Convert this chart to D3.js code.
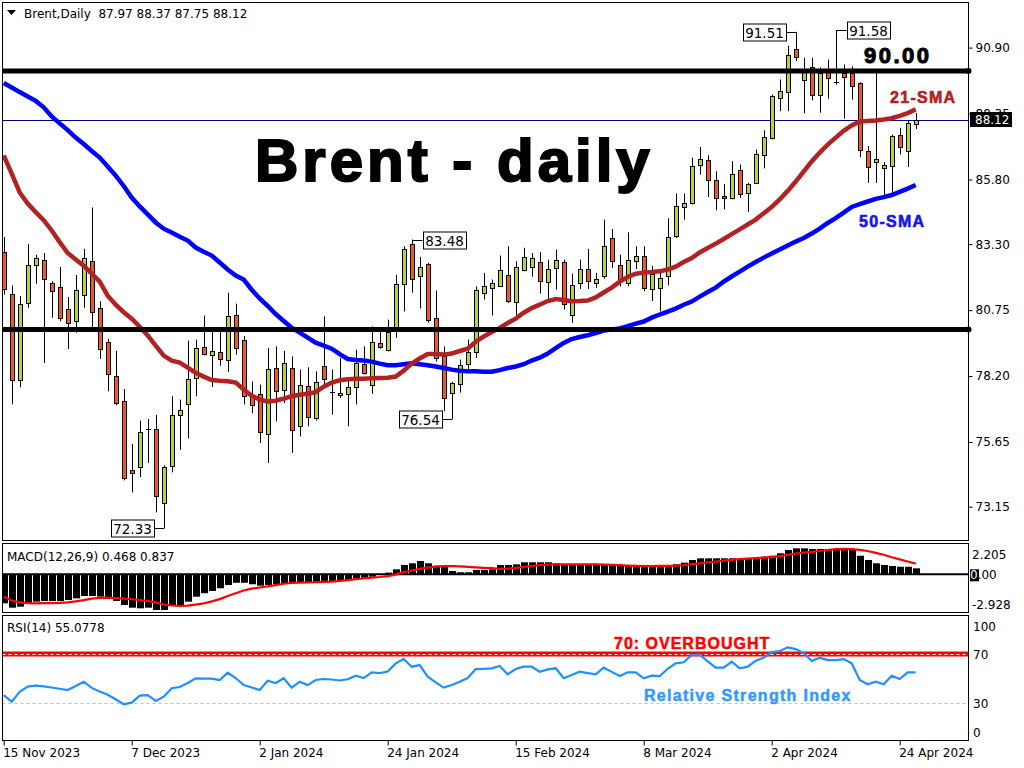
<!DOCTYPE html>
<html>
<head>
<meta charset="utf-8">
<script src="https://cdn.jsdelivr.net/npm/d3@7"></script>
<style>
  body { margin: 0; background: #fff; }
  svg { display: block; }
  text { font-family: "DejaVu Sans", sans-serif; }
</style>
</head>
<body>
<svg id="chart" width="1024" height="768"></svg>
<script>
// daily candles, 15 Nov 2023 .. 26 Apr 2024 (115 bars)
const open = [83.00,81.38,78.05,81.03,82.50,82.68,81.80,81.65,80.80,80.33,
  81.35,82.65,80.84,79.52,78.21,77.24,74.57,74.69,76.17,76.16,
  73.29,74.71,76.70,77.12,78.13,79.33,79.02,79.12,78.79,80.57,
  79.60,77.44,77.51,75.96,78.52,77.68,78.52,76.27,77.80,76.58,
  78.60,77.57,77.48,77.51,77.80,78.67,77.87,79.48,79.21,79.96,
  81.77,83.29,82.07,82.54,80.45,78.96,77.55,77.90,78.64,79.12,
  81.42,81.57,81.71,82.12,81.03,82.32,82.42,82.62,81.85,82.38,
  82.62,80.58,81.78,82.34,81.80,82.06,83.54,82.50,81.80,82.67,
  82.83,81.57,81.60,82.06,83.63,84.73,84.90,86.38,86.57,85.80,
  85.15,85.09,86.15,85.25,85.67,86.77,87.39,88.96,89.19,90.84,
  89.66,90.14,89.09,89.99,89.58,89.93,89.93,89.54,86.89,86.48,
  86.25,86.31,87.51,86.89,87.97]
const high = [83.58,81.70,81.29,83.31,82.89,82.96,81.87,82.42,81.26,82.11,
  83.12,84.72,81.09,79.64,79.18,77.70,75.58,76.48,76.54,76.70,
  74.75,77.42,77.29,79.57,79.61,80.54,79.93,79.93,81.42,81.00,
  79.75,77.99,77.87,79.29,79.35,79.18,78.96,78.45,78.54,78.38,
  80.51,78.45,78.90,78.13,79.22,79.35,80.12,79.93,80.38,82.12,
  83.22,83.48,82.81,82.58,81.51,79.35,77.98,78.84,79.61,81.67,
  82.19,81.93,82.86,83.22,82.64,83.16,82.96,82.99,82.70,83.09,
  82.70,82.16,82.70,83.12,82.19,84.25,83.89,82.90,83.76,83.22,
  83.22,82.47,82.30,84.30,85.26,85.26,86.64,87.06,86.74,86.12,
  85.63,86.51,86.38,85.67,86.96,87.70,89.09,89.67,90.98,91.51,
  90.51,90.51,90.14,90.44,91.58,90.25,90.18,89.56,87.09,90.02,
  86.47,87.54,87.80,88.08,88.37]
const low = [81.35,77.11,77.77,80.84,81.77,78.71,80.45,80.32,79.25,79.87,
  80.84,80.09,78.86,77.61,77.07,74.17,73.70,74.30,74.84,72.93,
  72.33,74.48,75.35,75.79,77.42,79.00,77.78,78.60,78.35,79.03,
  77.10,76.76,75.61,74.84,76.45,77.16,75.23,75.87,76.26,76.48,
  77.74,76.71,77.35,76.26,77.10,78.26,77.51,79.26,79.15,79.68,
  80.70,81.42,80.81,80.26,78.76,76.84,76.54,77.56,78.45,78.90,
  81.16,80.54,81.67,81.03,80.54,82.25,82.04,81.39,81.18,81.54,
  80.77,80.26,81.57,81.57,81.61,81.96,82.38,81.67,81.67,82.34,
  81.48,81.10,80.70,81.70,83.54,84.25,84.83,85.99,85.12,84.61,
  84.64,85.03,85.09,84.55,85.63,86.23,87.35,88.44,88.44,90.38,
  88.36,88.86,88.38,88.92,89.47,88.16,88.89,86.66,85.67,85.67,
  85.15,85.29,86.77,86.28,87.75]
const close = [81.57,78.05,80.99,82.50,82.76,81.96,81.49,80.45,80.26,81.53,
  82.77,80.68,79.25,78.28,77.16,74.26,74.44,76.04,76.17,73.56,
  74.69,76.70,76.89,78.09,79.29,79.06,79.17,78.86,80.51,79.29,
  77.43,77.08,76.04,78.48,77.64,78.71,76.13,77.87,76.60,77.97,
  78.10,77.57,77.55,77.78,78.71,78.32,79.52,79.33,79.91,81.77,
  83.13,81.92,82.40,80.36,78.90,77.35,77.94,78.63,79.12,81.52,
  81.70,81.78,82.32,81.13,82.40,82.81,82.77,81.87,82.34,82.70,
  80.98,81.74,82.34,81.87,81.96,83.22,82.67,81.87,82.68,82.86,
  81.61,82.16,82.00,83.58,84.79,84.90,86.34,86.61,85.80,85.09,
  85.09,86.02,85.22,85.61,86.79,87.45,89.01,89.24,90.61,90.55,
  90.03,89.05,89.93,89.71,89.58,89.77,89.44,86.96,86.29,86.60,
  86.35,87.48,87.05,87.99,88.12]

const sma21 = [86.73,86.03,85.30,84.87,84.54,84.23,83.83,83.38,82.96,82.71,
  82.47,82.16,81.85,81.31,80.96,80.67,80.42,80.11,79.77,79.38,
  78.99,78.80,78.72,78.53,78.33,78.18,78.05,78.02,78.00,77.95,
  77.68,77.44,77.29,77.22,77.25,77.33,77.42,77.48,77.52,77.58,
  77.79,77.95,78.04,78.08,78.10,78.10,78.12,78.13,78.14,78.18,
  78.41,78.68,78.88,79.05,79.05,79.03,79.07,79.17,79.26,79.53,
  79.73,79.90,80.06,80.25,80.42,80.65,80.83,80.96,81.10,81.18,
  81.14,81.09,81.10,81.12,81.24,81.43,81.62,81.85,82.03,82.16,
  82.20,82.22,82.25,82.32,82.43,82.61,82.76,82.98,83.15,83.32,
  83.50,83.69,83.87,84.06,84.25,84.50,84.74,85.03,85.36,85.72,
  86.11,86.50,86.84,87.15,87.42,87.68,87.89,88.04,88.06,88.08,
  88.12,88.17,88.26,88.37,88.51]
const sma50 = [89.53,89.36,89.18,89.01,88.84,88.59,88.24,87.97,87.71,87.42,
  87.17,86.90,86.65,86.30,85.95,85.55,85.10,84.76,84.45,84.14,
  83.90,83.75,83.59,83.44,83.17,83.01,82.86,82.59,82.32,82.09,
  81.93,81.54,81.20,80.91,80.60,80.33,80.07,79.88,79.69,79.49,
  79.38,79.26,79.05,78.86,78.82,78.80,78.76,78.68,78.62,78.62,
  78.66,78.70,78.66,78.62,78.57,78.51,78.45,78.41,78.39,78.39,
  78.37,78.37,78.43,78.51,78.57,78.66,78.80,78.91,79.07,79.28,
  79.48,79.63,79.71,79.78,79.86,79.96,80.00,80.04,80.13,80.23,
  80.31,80.46,80.58,80.69,80.81,80.96,81.08,81.27,81.45,81.62,
  81.85,82.05,82.24,82.43,82.61,82.78,82.94,83.09,83.25,83.40,
  83.54,83.71,83.90,84.12,84.31,84.52,84.74,84.85,84.95,85.05,
  85.12,85.20,85.32,85.45,85.59]

const macdHist = [-2.27,-2.61,-2.53,-2.27,-2.14,-2.09,-2.09,-2.09,-2.01,-1.88,
  -1.70,-1.70,-1.75,-1.88,-2.09,-2.40,-2.61,-2.66,-2.61,-2.79,
  -2.79,-2.45,-2.40,-2.14,-1.75,-1.48,-1.30,-1.09,-0.84,-0.66,
  -0.66,-0.78,-0.89,-0.84,-0.78,-0.70,-0.66,-0.63,-0.63,-0.58,
  -0.52,-0.52,-0.52,-0.45,-0.31,-0.27,-0.19,-0.05,0.13,0.39,
  0.73,0.86,1.04,0.86,0.67,0.59,0.26,0.16,0.16,0.34,
  0.34,0.39,0.73,0.73,0.78,0.94,0.94,0.94,0.94,0.86,
  0.80,0.78,0.76,0.75,0.74,0.73,0.72,0.72,0.72,0.73,
  0.73,0.67,0.59,0.67,0.78,0.91,1.12,1.25,1.25,1.25,
  1.25,1.25,1.20,1.20,1.30,1.38,1.45,1.64,1.90,2.03,
  2.03,1.98,1.98,1.98,1.98,1.98,1.90,1.45,1.12,0.86,
  0.73,0.65,0.59,0.59,0.468]
const macdSignal = [-1.75,-2.05,-2.20,-2.26,-2.27,-2.26,-2.25,-2.23,-2.20,-2.12,
  -2.02,-1.90,-1.85,-1.83,-1.86,-1.90,-1.95,-2.01,-2.08,-2.20,
  -2.36,-2.44,-2.48,-2.45,-2.37,-2.28,-2.12,-1.94,-1.70,-1.48,
  -1.27,-1.12,-1.03,-0.95,-0.85,-0.74,-0.68,-0.65,-0.63,-0.62,
  -0.60,-0.58,-0.52,-0.45,-0.38,-0.32,-0.26,-0.21,-0.14,-0.02,
  0.17,0.30,0.42,0.52,0.60,0.64,0.65,0.62,0.58,0.54,
  0.51,0.48,0.43,0.44,0.50,0.58,0.65,0.71,0.75,0.77,
  0.78,0.78,0.78,0.78,0.78,0.76,0.74,0.71,0.68,0.66,
  0.65,0.65,0.66,0.66,0.67,0.72,0.79,0.86,0.93,1.00,
  1.07,1.13,1.19,1.23,1.27,1.31,1.35,1.42,1.52,1.61,
  1.69,1.75,1.82,1.90,1.97,1.99,1.97,1.91,1.82,1.68,
  1.53,1.33,1.17,1.00,0.837]
const rsi = [36.7,31.3,39.4,43.5,44.3,43.8,42.8,41.8,40.8,44.0,
  47.5,42.5,39.5,37.0,33.3,29.2,30.5,36.2,36.6,31.9,
  35.4,42.2,43.2,46.5,50.3,50.0,50.0,48.9,54.8,50.5,
  44.8,42.8,40.8,48.3,46.5,50.3,42.7,47.5,44.8,48.9,
  49.7,49.3,48.5,49.5,52.4,50.5,55.1,54.5,55.8,62.4,
  65.9,59.7,61.0,51.6,47.0,42.7,44.8,47.5,50.5,57.8,
  58.0,58.3,60.3,53.5,57.8,59.7,59.7,55.6,57.5,58.4,
  50.3,53.0,55.6,54.5,53.5,58.9,55.5,52.1,55.1,55.1,
  50.3,52.4,52.0,58.0,62.4,63.3,69.2,69.5,64.0,58.9,
  58.9,63.7,58.4,59.7,64.5,67.0,71.5,72.4,75.4,74.0,
  70.6,64.3,67.0,65.1,65.1,65.9,62.4,48.9,45.4,47.5,
  45.4,52.4,49.7,55.1,55.0778]

const tickIdx = [0, 16, 32, 48, 64, 80, 96, 112]
const tickLabels = ["15 Nov 2023", "7 Dec 2023", "2 Jan 2024", "24 Jan 2024",
  "15 Feb 2024", "8 Mar 2024", "2 Apr 2024", "24 Apr 2024"]
const priceTicks = [90.90, 88.35, 85.80, 83.30, 80.75, 78.20, 75.65, 73.15]
const macdTicks = [2.205, 0, -2.928]
const rsiTicks = [100, 70, 30, 0]
const levels = [90.00, 80.00]

const annoIdx = [99, 104, 51, 56, 20]
const annoVal = [91.51, 91.58, 83.48, 76.54, 72.33]
const annoSide = ["left", "right", "right", "left", "left"]

const bull = "#BCD22E", bear = "#F05A22"
const axisR = 968.5, left = 2.5

const svg = d3.select("#chart")
svg.append("rect").attr("width", 1024).attr("height", 768).attr("fill", "#fff")

const idx = d3.range(open.length)
const x = d3.scaleLinear().domain([0, 114]).range([3.7, 915.7])
const y = d3.scaleLinear().domain([73.15, 90.90]).range([506.7, 47.6])
const yM = d3.scaleLinear().domain([0, 2.205]).range([574.3, 546.1])
const yR = d3.scaleLinear().domain([30, 70]).range([703.3, 654])
const px = i => Math.round(x(i))

const defs = svg.append("defs")
defs.append("clipPath").attr("id", "clipMain").append("rect")
  .attr("x", 3).attr("y", 3).attr("width", 965).attr("height", 537)
defs.append("clipPath").attr("id", "clipMacd").append("rect")
  .attr("x", 3).attr("y", 544).attr("width", 965).attr("height", 68)
defs.append("clipPath").attr("id", "clipRsi").append("rect")
  .attr("x", 3).attr("y", 616).attr("width", 965).attr("height", 124)

// ---------- main window
const gm = svg.append("g").attr("clip-path", "url(#clipMain)")

// last price line
gm.append("line")
  .attr("x1", left).attr("x2", axisR)
  .attr("y1", Math.round(y(close[114])) + 0.5).attr("y2", Math.round(y(close[114])) + 0.5)
  .attr("stroke", "#000080")

const bars = gm.append("g").selectAll("g").data(idx).join("g")
bars.append("line")
  .attr("x1", i => px(i) + 0.5).attr("x2", i => px(i) + 0.5)
  .attr("y1", i => y(high[i])).attr("y2", i => y(low[i]))
  .attr("stroke", "#000")
bars.filter(i => open[i] !== close[i]).append("rect")
  .attr("x", i => px(i) - 1.5)
  .attr("y", i => Math.round(y(Math.max(open[i], close[i]))) + 0.5)
  .attr("width", 4)
  .attr("height", i => Math.max(1, Math.round(Math.abs(y(open[i]) - y(close[i])))))
  .attr("fill", i => close[i] > open[i] ? bull : bear)
  .attr("stroke", "#000")
bars.filter(i => open[i] === close[i]).append("line")
  .attr("x1", i => px(i) - 2).attr("x2", i => px(i) + 3)
  .attr("y1", i => Math.round(y(open[i])) + 0.5).attr("y2", i => Math.round(y(open[i])) + 0.5)
  .attr("stroke", "#000")

const smaLine = d3.line().x((d, i) => x(i)).y(d => y(d))
gm.append("path").attr("d", smaLine(sma50))
  .attr("fill", "none").attr("stroke", "#0000FF").attr("stroke-width", 4.5)
gm.append("path").attr("d", smaLine(sma21))
  .attr("fill", "none").attr("stroke", "#B22222").attr("stroke-width", 4.5)

levels.forEach(v => {
  gm.append("line").attr("x1", left).attr("x2", axisR)
    .attr("y1", y(v)).attr("y2", y(v))
    .attr("stroke", "#000").attr("stroke-width", 5)
})
levels.forEach(v => {
  svg.append("circle").attr("cx", axisR).attr("cy", y(v)).attr("r", 3).attr("fill", "#000")
})

// high / low labels
annoIdx.forEach((i, k) => {
  const yy = Math.round(y(annoVal[k])) + 0.5
  const cx = px(i) + 0.5
  const bx = annoSide[k] === "left" ? cx - 10 - 44 : cx + 10
  gm.append("line").attr("x1", cx).attr("x2", annoSide[k] === "left" ? bx + 44 : bx)
    .attr("y1", yy).attr("y2", yy).attr("stroke", "#000")
  gm.append("rect").attr("x", Math.round(bx) + 0.5).attr("y", Math.round(yy - 9))
    .attr("width", 43).attr("height", 17)
    .attr("fill", "#fff").attr("stroke", "#000")
  gm.append("text").attr("x", bx + 22).attr("y", yy + 5)
    .attr("text-anchor", "middle").attr("font-size", 13.5)
    .text(annoVal[k].toFixed(2))
})

// big captions
svg.append("text").attr("x", 255).attr("y", 181)
  .style("font-family", "'Liberation Sans', Arial, sans-serif")
  .attr("font-weight", "bold").attr("font-size", 60).attr("letter-spacing", 4)
  .attr("fill", "#000").attr("stroke", "#000").attr("stroke-width", 2)
  .text("Brent - daily")
svg.append("text").attr("x", 864).attr("y", 63)
  .style("font-family", "'Liberation Sans', Arial, sans-serif")
  .attr("font-weight", "bold").attr("font-size", 22).attr("letter-spacing", 2.5)
  .attr("fill", "#000").attr("stroke", "#000").attr("stroke-width", 1)
  .text(levels[0].toFixed(2))
svg.append("text").attr("x", 890).attr("y", 103)
  .style("font-family", "'Liberation Sans', Arial, sans-serif")
  .attr("font-weight", "bold").attr("font-size", 16).attr("letter-spacing", 1.3)
  .attr("fill", "#B22222").attr("stroke", "#B22222").attr("stroke-width", 0.6)
  .text("21-SMA")
svg.append("text").attr("x", 859).attr("y", 227)
  .style("font-family", "'Liberation Sans', Arial, sans-serif")
  .attr("font-weight", "bold").attr("font-size", 16).attr("letter-spacing", 1.3)
  .attr("fill", "#1515E8").attr("stroke", "#1515E8").attr("stroke-width", 0.6)
  .text("50-SMA")

// header
svg.append("path").attr("d", "M7,10 L16,10 L11.5,15 Z").attr("fill", "#000")
svg.append("text").attr("x", 24).attr("y", 18).attr("font-size", 12)
  .attr("xml:space", "preserve")
  .text(`Brent,Daily  ${[open[114], high[114], low[114], close[114]].map(d => d.toFixed(2)).join(" ")}`)

// price axis
svg.append("g").attr("transform", `translate(${axisR},0)`)
  .call(d3.axisRight(y).tickValues(priceTicks).tickFormat(d3.format(".2f")).tickSize(4).tickPadding(3))
  .call(g => g.select(".domain").remove())
  .call(g => g.selectAll("text").attr("font-size", 12).attr("font-family", "DejaVu Sans").attr("fill", "#000"))

// last price tag
svg.append("rect").attr("x", 970).attr("y", Math.round(y(close[114])) - 8)
  .attr("width", 42).attr("height", 15).attr("fill", "#000")
svg.append("text").attr("x", 975).attr("y", Math.round(y(close[114])) + 4)
  .attr("font-size", 12).attr("fill", "#fff").text(close[114].toFixed(2))

// ---------- MACD window
const gd = svg.append("g").attr("clip-path", "url(#clipMacd)")
gd.append("line").attr("x1", left).attr("x2", axisR)
  .attr("y1", yM(0)).attr("y2", yM(0)).attr("stroke", "#000").attr("stroke-width", 2)
gd.selectAll("rect").data(idx).join("rect")
  .attr("x", i => px(i) - 3)
  .attr("width", 7)
  .attr("y", i => yM(Math.max(0, macdHist[i])))
  .attr("height", i => Math.abs(yM(macdHist[i]) - yM(0)))
  .attr("fill", "#000")
gd.append("path").attr("d", d3.line().x((d, i) => x(i)).y(d => yM(d))(macdSignal))
  .attr("fill", "none").attr("stroke", "#FF0000").attr("stroke-width", 2.2)
svg.append("text").attr("x", 7).attr("y", 561).attr("font-size", 12)
  .text(`MACD(12,26,9) ${macdHist[114].toFixed(3)} ${macdSignal[114].toFixed(3)}`)
macdTicks.forEach(t => {
  const ty = Math.min(Math.max(yM(t), 554), 604)
  if (t === 0) {
    svg.append("rect").attr("x", 970).attr("y", ty - 5).attr("width", 9).attr("height", 12).attr("fill", "#000")
    const tt = svg.append("text").attr("x", 970).attr("y", ty + 5).attr("font-size", 12)
    tt.append("tspan").attr("fill", "#fff").text("0")
    tt.append("tspan").attr("fill", "#000").text(".00")
  } else {
    svg.append("text").attr("x", 972).attr("y", ty + 5).attr("font-size", 12).text(t)
  }
})

// ---------- RSI window
const gr = svg.append("g").attr("clip-path", "url(#clipRsi)")
gr.append("line").attr("x1", left).attr("x2", axisR)
  .attr("y1", Math.round(yR(30)) + 0.5).attr("y2", Math.round(yR(30)) + 0.5)
  .attr("stroke", "#C0C0C0").attr("stroke-dasharray", "3,3")
gr.append("line").attr("x1", left).attr("x2", axisR)
  .attr("y1", yR(70)).attr("y2", yR(70))
  .attr("stroke", "#FF0000").attr("stroke-width", 5)
gr.append("line").attr("x1", left).attr("x2", axisR)
  .attr("y1", Math.round(yR(70)) + 0.5).attr("y2", Math.round(yR(70)) + 0.5)
  .attr("stroke", "#fff").attr("stroke-dasharray", "3,3")
gr.append("path").attr("d", d3.line().x((d, i) => x(i)).y(d => yR(d))(rsi))
  .attr("fill", "none").attr("stroke", "#1E90FF").attr("stroke-width", 2.2)
svg.append("text").attr("x", 7).attr("y", 632).attr("font-size", 12)
  .text(`RSI(14) ${rsi[114]}`)
rsiTicks.forEach(t => {
  const ty = Math.min(Math.max(yR(t), 626), 732)
  svg.append("text").attr("x", 973).attr("y", ty + 5).attr("font-size", 12).text(t)
})
svg.append("text").attr("x", 614).attr("y", 649)
  .style("font-family", "'Liberation Sans', Arial, sans-serif")
  .attr("font-weight", "bold").attr("font-size", 16).attr("letter-spacing", 1)
  .attr("fill", "#FF0000").attr("stroke", "#FF0000").attr("stroke-width", 0.5)
  .text("70: OVERBOUGHT")
svg.append("text").attr("x", 644).attr("y", 701)
  .style("font-family", "'Liberation Sans', Arial, sans-serif")
  .attr("font-weight", "bold").attr("font-size", 16).attr("letter-spacing", 1.3)
  .attr("fill", "#3399FF").attr("stroke", "#3399FF").attr("stroke-width", 0.5)
  .text("Relative Strength Index")

// ---------- frames
const frames = [[2.5, 540.5], [543.5, 612.5], [615.5, 740.5]]
frames.forEach(([t, b]) => {
  svg.append("rect").attr("x", left).attr("y", t)
    .attr("width", axisR - left).attr("height", b - t)
    .attr("fill", "none").attr("stroke", "#000")
})

// time axis
svg.append("g").attr("transform", "translate(0,740.5)")
  .call(d3.axisBottom(x).tickValues(tickIdx).tickFormat((d, k) => tickLabels[k]).tickSize(5).tickPadding(3))
  .call(g => g.select(".domain").remove())
  .call(g => g.selectAll("text").attr("text-anchor", "start").attr("dx", -1)
    .attr("font-size", 12).attr("font-family", "DejaVu Sans").attr("fill", "#000"))
</script>
</body>
</html>
